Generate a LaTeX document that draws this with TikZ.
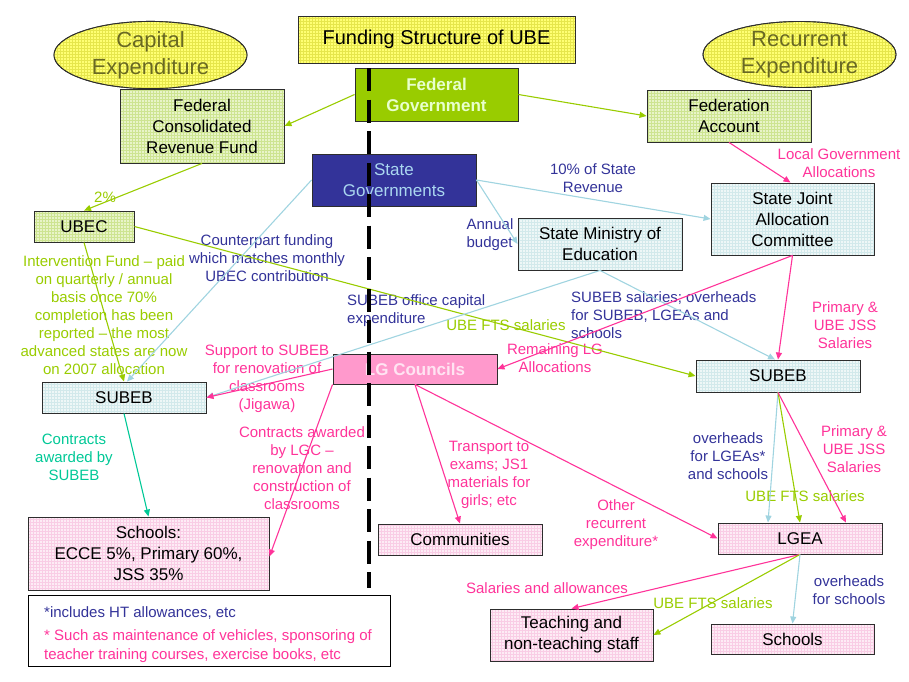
\documentclass[tikz,border=0pt]{standalone}
\usepackage{fontspec}
\setmainfont{Liberation Sans}
\usetikzlibrary{arrows.meta,shapes.geometric,patterns}
\definecolor{cgreen}{RGB}{153,204,0}
\definecolor{cpink}{RGB}{255,51,153}
\definecolor{cblue}{RGB}{160,212,224}
\definecolor{cnavy}{RGB}{51,51,153}
\definecolor{cteal}{RGB}{0,200,150}
\definecolor{fgreen}{RGB}{232,244,200}
\definecolor{fgreenl}{RGB}{205,228,145}
\definecolor{fblue}{RGB}{238,247,247}
\definecolor{fbluel}{RGB}{210,233,235}
\definecolor{fpink}{RGB}{253,236,245}
\definecolor{fpinkl}{RGB}{249,205,229}
\definecolor{fyellow}{RGB}{255,255,115}
\definecolor{fyellowl}{RGB}{230,230,75}
\definecolor{olivetxt}{RGB}{105,105,35}
\definecolor{bordergray}{RGB}{45,45,45}
\definecolor{fedfill}{RGB}{153,204,0}
\definecolor{fedtxt}{RGB}{232,255,205}
\definecolor{sgfill}{RGB}{51,51,153}
\definecolor{sgtxt}{RGB}{170,215,240}
\definecolor{lgfill}{RGB}{255,153,204}
\definecolor{lgtxt}{RGB}{255,228,242}
\begin{document}
\begin{tikzpicture}[x=1pt,y=-1pt,
 box/.style={draw=bordergray, line width=0.9pt, inner sep=0pt, align=center, font=\fontsize{17}{21}\selectfont},
 rim/.style={postaction={draw=bordergray, line width=0.9pt}},
 gbox/.style={box, fill=fgreen, postaction={pattern=grid, pattern color=fgreenl}, rim},
 bbox/.style={box, fill=fblue, postaction={pattern=grid, pattern color=fbluel}, rim},
 pbox/.style={box, fill=fpink, postaction={pattern=grid, pattern color=fpinkl}, rim},
 ybox/.style={box, fill=fyellow, postaction={pattern=grid, pattern color=fyellowl}, rim},
 ell/.style={ellipse, draw=bordergray, line width=0.9pt, fill=fyellow, postaction={pattern=grid, pattern color=fyellowl}, rim, inner sep=0pt, align=center, text=olivetxt, font=\fontsize{22}{27}\selectfont},
 lbl/.style={font=\fontsize{15}{18}\selectfont, align=center, inner sep=0pt},
 conn/.style={line width=1.1pt, -{Triangle[length=7pt,width=6pt]}},
 ]
\useasboundingbox (0,0) rectangle (909,681);
% ---------- boxes ----------
\node[ybox, minimum width=277pt, minimum height=47pt, font=\fontsize{20}{24}\selectfont] (title) at (436.5,39.5) {Funding Structure of UBE};
\node[ell, minimum width=193pt, minimum height=56pt] (cap) at (150.5,55) {Capital\\Expenditure};
\node[ell, minimum width=193pt, minimum height=56pt] (rec) at (799.5,54.5) {Recurrent\\Expenditure};
\node[box, fill=fedfill, text=fedtxt, font=\fontsize{17}{21}\selectfont\bfseries, minimum width=163pt, minimum height=53pt] (fg) at (436.5,94.5) {Federal\\Government};
\node[gbox, minimum width=164pt, minimum height=74pt] (fcrf) at (202,126) {Federal\\Consolidated\\Revenue Fund};
\node[gbox, minimum width=164pt, minimum height=52pt] (fa) at (729,116) {Federation\\Account};
\node[box, fill=sgfill, text=sgtxt, minimum width=164pt, minimum height=52pt] (sg) at (394,180) {State\\Governments};
\node[gbox, minimum width=100pt, minimum height=31pt] (ubec) at (84,226.5) {UBEC};
\node[bbox, minimum width=164pt, minimum height=52pt] (smoe) at (600,244) {State Ministry of\\Education};
\node[bbox, minimum width=163pt, minimum height=72pt] (sjac) at (792.5,219) {State Joint\\Allocation\\Committee};
\node[box, fill=lgfill, text=lgtxt, font=\fontsize{17}{21}\selectfont\bfseries, minimum width=164pt, minimum height=30pt] (lgc) at (415,369) {LG Councils};
\node[bbox, minimum width=164pt, minimum height=31pt] (subebL) at (124,397.5) {SUBEB};
\node[bbox, minimum width=164pt, minimum height=32pt] (subebR) at (778,376) {SUBEB};
\node[pbox, minimum width=241pt, minimum height=73pt] (schoolsL) at (148.5,553.5) {Schools:\\ECCE 5\%, Primary 60\%,\\JSS 35\%};
\node[pbox, minimum width=164pt, minimum height=31pt] (comm) at (460,539.5) {Communities};
\node[pbox, minimum width=164pt, minimum height=31pt] (lgea) at (800,538.5) {LGEA};
\node[pbox, minimum width=163pt, minimum height=52pt] (teach) at (571.5,635) {Teaching and\\non-teaching staff};
\node[pbox, minimum width=163pt, minimum height=30pt] (schoolsR) at (792.5,639) {Schools};
\node[draw=black, line width=0.9pt, fill=white, minimum width=362pt, minimum height=71pt, inner sep=0pt] (notes) at (209,630.5) {};
\node[lbl, anchor=west, text=cnavy] (note1) at (44,613) {*includes HT allowances, etc};
\node[lbl, anchor=west, align=left, text=cpink, font=\fontsize{15}{19}\selectfont] (note2) at (44,646.5) {* Such as maintenance of vehicles, sponsoring of\\teacher training courses, exercise books, etc};
% ---------- labels ----------
\node[lbl, text=cgreen] (l2) at (105,197) {2\%};
\node[lbl, text=cpink] (llga) at (839,163.5) {Local Government\\Allocations};
\node[lbl, text=cnavy] (l10) at (593,178) {10\% of State\\Revenue};
\node[lbl, text=cnavy, align=left] (lab) at (490,234.5) {Annual\\budget};
\node[lbl, text=cnavy] (lcp) at (267,258) {Counterpart funding\\which matches monthly\\UBEC contribution};
\node[lbl, text=cgreen] (lif) at (104,315) {Intervention Fund – paid\\on quarterly / annual\\basis once 70\%\\completion has been\\reported – the most\\advanced states are now\\on 2007 allocation};
\node[lbl, text=cnavy, align=left, anchor=west] (loc) at (347,311) {SUBEB office capital\\expenditure};
\node[lbl, text=cgreen] (lfts1) at (506,325) {UBE FTS salaries};
\node[lbl, text=cnavy, align=left, anchor=west] (lss) at (571,315) {SUBEB salaries; overheads\\for SUBEB, LGEAs and\\schools};
\node[lbl, text=cpink] (lpr1) at (845,325) {Primary \&\\UBE JSS\\Salaries};
\node[lbl, text=cpink] (lrem) at (555,358) {Remaining LG\\Allocations};
\node[lbl, text=cpink] (lsup) at (267,379) {Support to SUBEB\\for renovation of\\classrooms\\(Jigawa)};
\node[lbl, text=cteal] (lcs) at (74,457) {Contracts\\awarded by\\SUBEB};
\node[lbl, text=cpink] (lcl) at (302,468) {Contracts awarded\\by LGC –\\renovation and\\construction of\\classrooms};
\node[lbl, text=cpink] (ltr) at (489,474.5) {Transport to\\exams; JS1\\materials for\\girls; etc};
\node[lbl, text=cpink] (lor) at (616,525) {Other\\recurrent\\expenditure*};
\node[lbl, text=cnavy] (lovl) at (728,456) {overheads\\for LGEAs*\\and schools};
\node[lbl, text=cgreen] (lfts2) at (805,496) {UBE FTS salaries};
\node[lbl, text=cpink] (lpr2) at (854,449) {Primary \&\\UBE JSS\\Salaries};
\node[lbl, text=cpink] (lsal) at (547,588) {Salaries and allowances};
\node[lbl, text=cgreen] (lfts3) at (713,603) {UBE FTS salaries};
\node[lbl, text=cnavy] (lovs) at (849,590.5) {overheads\\for schools};
% ---------- connectors ----------
\draw[conn, cgreen] (fg.west) -- (fcrf.east);
\draw[conn, cgreen] (fg.east) -- (fa.west);
\draw[conn, cgreen] (fcrf.south) -- (ubec.north);
\draw[conn, cgreen] (ubec.east) -- (subebR.west);
\draw[conn, cgreen] (ubec.south) -- (subebL.north);
\draw[conn, cblue] (sg.west) -- ([xshift=3pt]subebL.north);
\draw[conn, cblue] (sg.east) -- (sjac.west);
\draw[conn, cblue] (sg.east) -- (smoe.west);
\draw[conn, cblue] (smoe.south) -- ([xshift=-3pt]subebR.north);
\draw[conn, cblue] (smoe.south) -- (subebL.east);
\draw[conn, cpink] (fa.south) -- ([xshift=-2pt]sjac.north);
\draw[conn, cpink] (sjac.south) -- (subebR.north);
\draw[conn, cpink] (sjac.south) -- (lgc.east);
\draw[conn, cpink] (lgc.west) -- (subebL.east);
\draw[conn, cpink] (lgc.south west) -- ([yshift=-3pt]schoolsL.east);
\draw[conn, cpink] (lgc.south) -- (comm.north);
\draw[conn, cpink] (lgc.south) -- (lgea.west);
\draw[conn, cteal] (subebL.south) -- (schoolsL.north);
\draw[conn, cblue] (subebR.south) -- ([xshift=-32pt]lgea.north);
\draw[conn, cgreen] (subebR.south) -- (lgea.north);
\draw[conn, cpink] (subebR.south) -- ([xshift=46pt]lgea.north);
\draw[conn, cpink] (lgea.south) -- (teach.north);
\draw[conn, cgreen] (lgea.south) -- (teach.east);
\draw[conn, cblue] (lgea.south) -- (schoolsR.north);
% ---------- divider ----------
\coordinate (dtop) at (369,68);
\coordinate (dbot) at (369,588);
\draw[line width=3.3pt, black, dash pattern=on 23pt off 8.5pt] (dtop) -- (dbot);
\end{tikzpicture}
\end{document}
